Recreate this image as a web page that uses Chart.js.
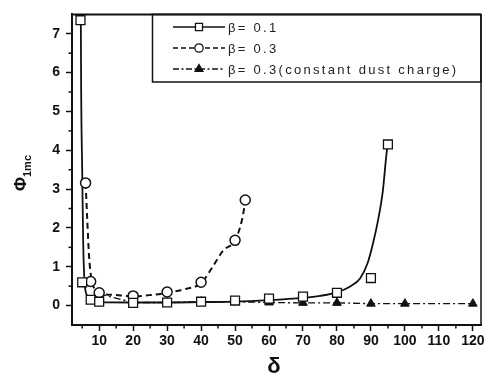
<!DOCTYPE html>
<html>
<head>
<meta charset="utf-8">
<script src="https://cdn.jsdelivr.net/npm/chart.js@4/dist/chart.umd.min.js"></script>
<style>
html,body{margin:0;padding:0;background:#fff;}
#c{display:block;}
</style>
</head>
<body>
<canvas id="c" width="489" height="381"></canvas>
<script>
// ---- data ----
const xTickValues = [10, 20, 30, 40, 50, 60, 70, 80, 90, 100, 110, 120];
const xMinorTicks = [5, 15, 25, 35, 45, 55, 65, 75, 85, 95, 105, 115];
const yTickValues = [0, 1, 2, 3, 4, 5, 6, 7];
const yMinorTicks = [0.5, 1.5, 2.5, 3.5, 4.5, 5.5, 6.5];

const legendLabels = ['β= 0.1', 'β= 0.3', 'β= 0.3(constant dust charge)'];

// beta = 0.1 (squares)
const b01X = [4.5, 5, 7.5, 10, 20, 30, 40, 50, 60, 70, 80, 90, 95];
const b01Y = [7.35, 0.6, 0.15, 0.1, 0.07, 0.08, 0.1, 0.13, 0.18, 0.23, 0.33, 0.71, 4.15];
// beta = 0.1 fitted curve
const b01FitX = [4.6, 4.7, 5.0, 5.3, 5.7, 6.5, 8, 10, 20, 30, 40, 50, 60, 70, 75, 80, 84, 86.8, 89, 90.6, 92.1, 93.5, 94.7, 95];
const b01FitY = [7.35, 5.5, 3.5, 1.6, 0.6, 0.25, 0.12, 0.09, 0.08, 0.08, 0.09, 0.1, 0.14, 0.2, 0.25, 0.34, 0.5, 0.7, 1.09, 1.6, 2.2, 2.95, 4.0, 4.15];

// beta = 0.3 (circles)
const b03X = [6, 7.5, 10, 20, 30, 40, 50, 53];
const b03Y = [3.16, 0.62, 0.33, 0.25, 0.35, 0.6, 1.68, 2.72];
// beta = 0.3 fitted curve
const b03FitX = [6, 6.5, 7, 7.6, 8.5, 10, 15, 20, 25, 30, 35, 40, 43.7, 46.5, 50, 52, 53.1];
const b03FitY = [3.16, 2.2, 1.3, 0.75, 0.45, 0.33, 0.27, 0.24, 0.27, 0.33, 0.42, 0.58, 1.04, 1.42, 1.68, 2.19, 2.72];

// beta = 0.3 constant dust charge (triangles)
const bcX = [10, 20, 30, 40, 50, 60, 70, 80, 90, 100, 120];
const bcY = [0.3, 0.08, 0.08, 0.1, 0.1, 0.08, 0.07, 0.07, 0.05, 0.05, 0.05];

const pts = (xs, ys) => xs.map((x, i) => ({x: x, y: ys[i]}));

const INK = '#111';
const FONT = '"Liberation Sans", Arial, sans-serif';

const extras = {
  id: 'extras',
  afterDraw(chart) {
    const ctx = chart.ctx;
    const a = chart.chartArea;
    const xs = chart.scales.x, ys = chart.scales.y;
    ctx.save();
    ctx.strokeStyle = INK;
    // frame top and right
    ctx.lineWidth = 2;
    ctx.beginPath(); ctx.moveTo(a.left - 1, a.top); ctx.lineTo(a.right, a.top); ctx.stroke();
    ctx.lineWidth = 1.5;
    ctx.beginPath(); ctx.moveTo(a.right, a.top); ctx.lineTo(a.right, a.bottom + 1); ctx.stroke();
    // minor ticks
    ctx.lineWidth = 1.5;
    xMinorTicks.forEach(v => {
      const px = xs.getPixelForValue(v);
      ctx.beginPath(); ctx.moveTo(px, a.bottom); ctx.lineTo(px, a.bottom + 3.5); ctx.stroke();
    });
    yMinorTicks.forEach(v => {
      const py = ys.getPixelForValue(v);
      ctx.beginPath(); ctx.moveTo(a.left, py); ctx.lineTo(a.left - 3.5, py); ctx.stroke();
    });
    // legend box
    const lx0 = 152.5, lx1 = a.right, ly0 = a.top, ly1 = 82;
    ctx.lineWidth = 1.5;
    ctx.strokeRect(lx0, ly0, lx1 - lx0, ly1 - ly0);
    const rows = [27, 48, 69];
    const dashes = [[], [5, 3], [6, 2.5, 2, 2.5]];
    const styles = [
      {pointStyle: 'rect', radius: 5, bg: '#fff'},
      {pointStyle: 'circle', radius: 4.2, bg: '#fff'},
      {pointStyle: 'triangle', radius: 4.5, bg: INK}
    ];
    rows.forEach((ry, i) => {
      ctx.setLineDash(dashes[i]);
      ctx.lineWidth = 1.6;
      ctx.beginPath(); ctx.moveTo(173, ry); ctx.lineTo(225, ry); ctx.stroke();
      ctx.setLineDash([]);
      ctx.fillStyle = styles[i].bg;
      ctx.strokeStyle = INK;
      ctx.lineWidth = 1.3;
      Chart.helpers.drawPoint(ctx, {pointStyle: styles[i].pointStyle, radius: styles[i].radius, rotation: 0, borderWidth: 1.3}, 199, ry);
      ctx.fillStyle = '#222';
      ctx.font = '13px ' + FONT;
      ctx.textAlign = 'left';
      ctx.textBaseline = 'middle';
      try { ctx.letterSpacing = '2.3px'; } catch (e) {}
      ctx.fillText(legendLabels[i], 228, ry + 1);
      try { ctx.letterSpacing = '0px'; } catch (e) {}
    });
    // x title
    ctx.fillStyle = INK;
    ctx.font = 'bold 22px ' + FONT;
    ctx.textAlign = 'center';
    ctx.textBaseline = 'middle';
    ctx.fillText('δ', 274, 367);
    // y title (rotated, with subscript)
    ctx.translate(21, 184);
    ctx.rotate(-Math.PI / 2);
    ctx.font = 'bold 17px ' + FONT;
    ctx.textAlign = 'center';
    ctx.fillText('Φ', 0, 0);
    ctx.font = 'bold 11px ' + FONT;
    ctx.textAlign = 'left';
    ctx.fillText('1mc', 7, 7);
    ctx.restore();
  }
};

new Chart(document.getElementById('c'), {
  type: 'line',
  data: {
    datasets: [
      {data: pts(b01X, b01Y), showLine: false, order: 0,
       pointStyle: 'rect', pointRadius: 6.3, pointBorderWidth: 1.3,
       pointBackgroundColor: '#fff', pointBorderColor: INK},
      {data: pts(b03X, b03Y), showLine: false, order: 0,
       pointStyle: 'circle', pointRadius: 5, pointBorderWidth: 1.5,
       pointBackgroundColor: '#fff', pointBorderColor: INK},
      {data: pts(bcX, bcY), showLine: true, order: 1,
       borderColor: INK, borderWidth: 1.4, borderDash: [7, 3, 2, 3], tension: 0,
       pointStyle: 'triangle', pointRadius: 5, pointBorderWidth: 1,
       pointBackgroundColor: INK, pointBorderColor: INK},
      {data: pts(b01FitX, b01FitY), showLine: true, order: 2,
       borderColor: INK, borderWidth: 1.8, pointRadius: 0, cubicInterpolationMode: 'monotone'},
      {data: pts(b03FitX, b03FitY), showLine: true, order: 2,
       borderColor: INK, borderWidth: 2, borderDash: [6, 4], pointRadius: 0, cubicInterpolationMode: 'monotone'}
    ]
  },
  options: {
    responsive: false,
    animation: false,
    events: [],
    layout: {padding: {left: 0, right: 8, top: 11, bottom: 0}},
    plugins: {legend: {display: false}, tooltip: {enabled: false}, title: {display: false}},
    scales: {
      x: {
        type: 'linear', min: 2, max: 122.4,
        afterBuildTicks: s => { s.ticks = xTickValues.map(v => ({value: v})); },
        afterFit: s => { s.height = 56; },
        border: {display: true, color: INK, width: 2},
        grid: {drawOnChartArea: false, drawTicks: true, tickLength: 6, tickWidth: 1.5, tickColor: INK},
        ticks: {color: INK, padding: 2, maxRotation: 0, autoSkip: false, font: {family: FONT, size: 14, weight: 'bold'}}
      },
      y: {
        type: 'linear', min: -0.5, max: 7.5,
        afterBuildTicks: s => { s.ticks = yTickValues.map(v => ({value: v})); },
        afterFit: s => { s.width = 72; },
        border: {display: true, color: INK, width: 2},
        grid: {drawOnChartArea: false, drawTicks: true, tickLength: 6, tickWidth: 1.5, tickColor: INK},
        ticks: {color: INK, padding: 6, autoSkip: false, font: {family: FONT, size: 14, weight: 'bold'}}
      }
    }
  },
  plugins: [extras]
});
</script>
</body>
</html>
